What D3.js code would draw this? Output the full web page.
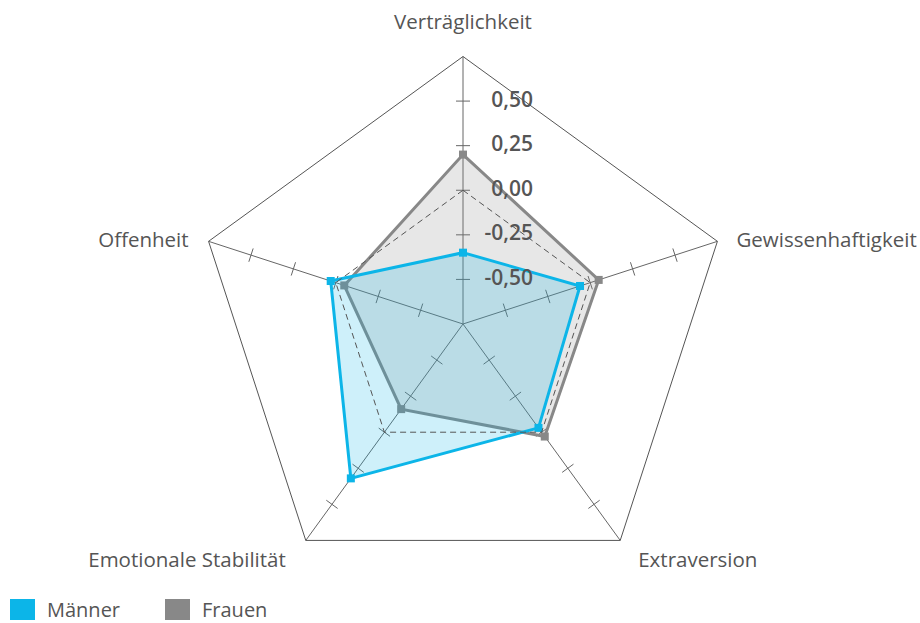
<!DOCTYPE html>
<html>
<head>
<meta charset="utf-8">
<script src="https://cdn.jsdelivr.net/npm/d3@7"></script>
<style>
  body { margin: 0; background: #fff; }
  text { font-family: "Open Sans", sans-serif; }
</style>
</head>
<body>
<div id="vis"></div>
<script>
const WIDTH = 920;
const HEIGHT = 623;

// Daten
const DIMENSIONEN = ["Verträglichkeit", "Gewissenhaftigkeit", "Extraversion", "Emotionale Stabilität", "Offenheit"];
const MAENNER = [-0.35, -0.06, -0.03, 0.32, 0.03];
const FRAUEN = [0.20, 0.05, 0.03, -0.16, -0.05];
const TICKS = [-0.5, -0.25, 0, 0.25, 0.5];
const TICK_LABELS = ["-0,50", "-0,25", "0,00", "0,25", "0,50"];
const SERIEN = ["Männer", "Frauen"];

const FARBE_M = "#0cb5e8";
const FARBE_F = "#888888";

const SVG = d3.select("#vis").append("svg")
  .attr("width", WIDTH).attr("height", HEIGHT);

const cx = 463, cy = 324;
const R = 267.5;

const escalaR = d3.scaleLinear().domain([-0.75, 0.75]).range([0, R]);
const winkel = d3.scaleLinear().domain([0, DIMENSIONEN.length]).range([0, 2 * Math.PI]);

function punkt(i, v) {
  const a = winkel(i);
  const r = escalaR(v);
  return [cx + r * Math.sin(a), cy - r * Math.cos(a)];
}

const G = SVG.append("g");

// Achsen
DIMENSIONEN.forEach((d, i) => {
  const [x2, y2] = punkt(i, 0.75);
  G.append("line")
    .attr("x1", cx).attr("y1", cy).attr("x2", x2).attr("y2", y2)
    .attr("stroke", "#666").attr("stroke-width", 1);
});

// Aussen-Fünfeck
const ringe = d3.line();
G.append("path")
  .attr("d", ringe(DIMENSIONEN.map((d, i) => punkt(i, 0.75))) + "Z")
  .attr("fill", "none").attr("stroke", "#555").attr("stroke-width", 1);

// Tick-Striche
DIMENSIONEN.forEach((d, i) => {
  const a = winkel(i);
  const px = Math.cos(a), py = Math.sin(a);
  TICKS.forEach(t => {
    const [x, y] = punkt(i, t);
    G.append("line")
      .attr("x1", x - px * 7).attr("y1", y - py * 7)
      .attr("x2", x + px * 7).attr("y2", y + py * 7)
      .attr("stroke", "#666").attr("stroke-width", 1);
  });
});

// Serien
function zeichneSerie(werte, farbe) {
  const pts = werte.map((v, i) => punkt(i, v));
  G.append("path")
    .attr("d", ringe(pts) + "Z")
    .attr("fill", farbe).attr("fill-opacity", 0.2)
    .attr("stroke", farbe).attr("stroke-width", 3)
    .attr("stroke-linejoin", "miter");
  G.selectAll(null)
    .data(pts)
    .join("rect")
    .attr("x", d => d[0] - 4).attr("y", d => d[1] - 4)
    .attr("width", 8).attr("height", 8)
    .attr("fill", farbe);
}
zeichneSerie(FRAUEN, FARBE_F);
zeichneSerie(MAENNER, FARBE_M);

// Null-Linie gestrichelt
G.append("path")
  .attr("d", ringe(DIMENSIONEN.map((d, i) => punkt(i, 0))) + "Z")
  .attr("fill", "none").attr("stroke", "#555").attr("stroke-width", 1)
  .attr("stroke-dasharray", "6,4");

// Tick-Beschriftung
TICKS.forEach((t, k) => {
  const [, y] = punkt(0, t);
  G.append("text")
    .attr("x", 533).attr("y", y)
    .attr("text-anchor", "end")
    .attr("dominant-baseline", "middle")
    .attr("font-size", 21).attr("font-weight", 600)
    .attr("fill", "#555")
    .text(TICK_LABELS[k]);
});

// Achsen-Beschriftung
const LABEL_POS = [
  { dx: 0, dy: -33, anchor: "middle" },
  { dx: 19, dy: 0, anchor: "start" },
  { dx: 18, dy: 21, anchor: "start" },
  { dx: -20, dy: 21, anchor: "end" },
  { dx: -20, dy: 0, anchor: "end" }
];
DIMENSIONEN.forEach((d, i) => {
  const [x, y] = punkt(i, 0.75);
  const p = LABEL_POS[i];
  G.append("text")
    .attr("x", x + p.dx).attr("y", y + p.dy)
    .attr("text-anchor", p.anchor)
    .attr("dominant-baseline", "middle")
    .attr("font-size", 20.5).attr("fill", "#555")
    .text(d);
});

// Legende
const LEG = SVG.append("g").attr("transform", "translate(10, 599)");
[FARBE_M, FARBE_F].forEach((f, i) => {
  const g = LEG.append("g").attr("transform", `translate(${i * 155}, 0)`);
  g.append("rect").attr("width", 25).attr("height", 21).attr("fill", f);
  g.append("text")
    .attr("x", 37).attr("y", 18)
    .attr("font-size", 20).attr("fill", "#555")
    .text(SERIEN[i]);
});
</script>
</body>
</html>
